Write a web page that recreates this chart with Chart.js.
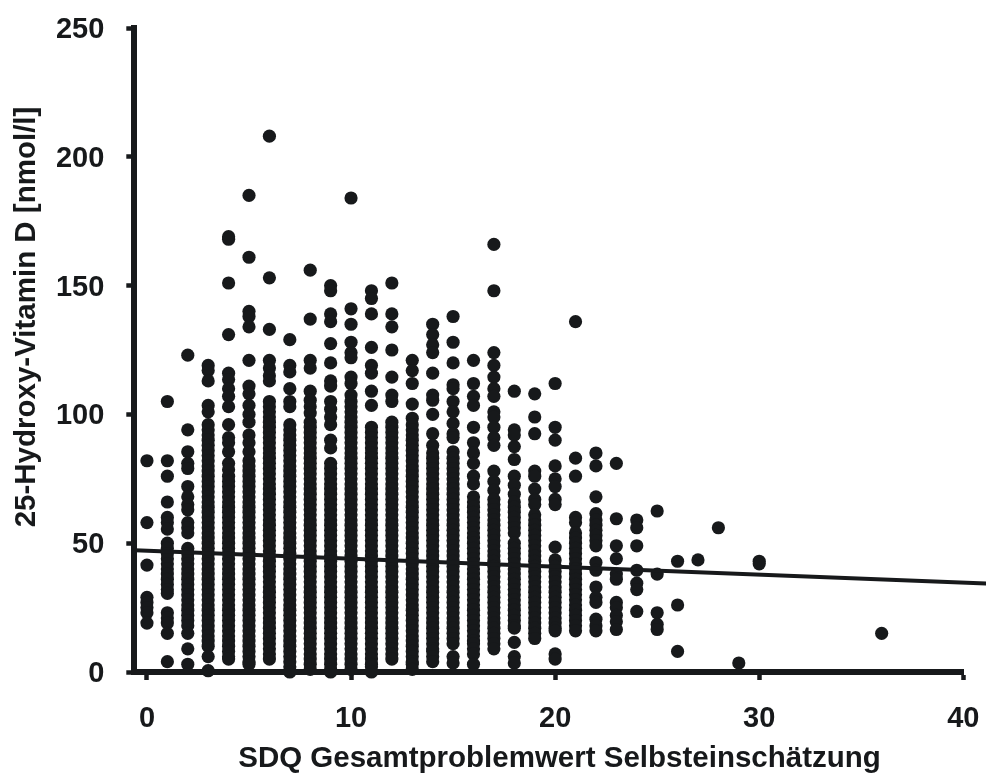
<!DOCTYPE html>
<html>
<head>
<meta charset="utf-8">
<style>html,body{margin:0;padding:0;background:#fff}canvas{display:block}</style>
<script src="https://cdn.jsdelivr.net/npm/chart.js@4/dist/chart.umd.min.js"></script>
</head>
<body>
<canvas id="c" width="986" height="773"></canvas>
<script>
const xTickLabels = [0, 10, 20, 30, 40];
const yTickLabels = [0, 50, 100, 150, 200, 250];
const xTitle = "SDQ Gesamtproblemwert Selbsteinschätzung";
const yTitle = "25-Hydroxy-Vitamin D [nmol/l]";

const score0 = [82,58,41.5,29,27,25,23,19];
const score1 = [105,82,76,66,60,58,55.5,50,48,46,44,42,40,38,36,34,32,30.5,23,21,19,15,4];
const score2 = [123,94,85.5,81,79,72,68,65,63,58,56,54,48,46,44,42,40,38,36,34,32,30,28,26,24,22,20,18,15,9,3];
const score3 = [119,117,113,103.5,101,96,94,92,90,88,86,84,82,80,78,76,74,72,70,68,66,64,62,60,58,56,54,52,50,48,46,44,42,40,38,36,34,32,30,28,26,24,22,20,18,16,14,12,10,6,0.5];
const score4 = [169,168,151,131,116,113.5,110,107,103,96,91,89,85.5,81,78.5,76,74,72,70,68,66,64,62,60,58,56,54,52,50,48,46,44,42,40,38,36,34,32,30,28,26,24,22,20,18,16,14,12,10,8,6,5];
const score5 = [185,161,140,138,134,121,111,108,103.5,100,97,92,89,85.5,82,80,78,76,74,72,70,68,66,64,62,60,58,56,54,52,50,48,46,44,42,40,38,36,34,32,30,28,26,24,22,20,18,16,14,12,10,8,6,4,3];
const score6 = [208,153,133,121,118,115,113,105,103,101,99,97,95,93,91,89,87,85,83,81,79,77,75,73,71,69,67,65,63,61,59,57,55,53,51,49,47,45,43,41,39,37,35,33,31,29,27,25,23,21,19,17,15,13,11,9,7,5];
const score7 = [129,119,116.5,110,105,103,96,94,92,90,88,86,84,82,80,78,76,74,72,70,68,66,64,62,60,58,56,54,52,50,48,46,44,42,40,38,36,34,32,30,28,26,24,22,20,18,16,14,12,10,8,6,4,2,0];
const score8 = [156,137,121,118,109,105.5,103,100.5,97,95,93,91,89,87,85,83,81,79,77,75,73,71,69,67,65,63,61,59,57,55,53,51,49,47,45,43,41,39,37,35,33,31,29,27,25,23,21,19,17,15,13,11,9,7,5,3,1];
const score9 = [150,148,139,136,127.5,120,113,111,105,102,99,96,90,87,81,79,77,75,73,71,69,67,65,63,61,59,57,55,53,51,49,47,45,43,41,39,37,35,33,31,29,27,25,23,21,19,17,15,13,11,9,7,5,3,1,0];
const score10 = [184,141,135,128,124,122,114.5,112,107.5,105,103,101,99,97,95,93,91,89,87,85,83,81,79,77,75,73,71,69,67,65,63,61,59,57,55,53,51,49,47,45,43,41,39,37,35,33,31,29,27,25,23,21,19,17,15,13,11,9,7,5,3,1];
const score11 = [148,145,139,126,119,116,109,103.5,95,93,91,89,87,85,83,81,79,77,75,73,71,69,67,65,63,61,59,57,55,53,51,49,47,45,43,41,39,37,35,33,31,29,27,25,23,21,19,17,15,13,11,9,7,5,3,2,0];
const score12 = [151,139,134,125,114.5,107.5,105,97,95,93,91,89,87,85,83,81,79,77,75,73,71,69,67,65,63,61,59,57,55,53,51,49,47,45,43,41,39,37,35,33,31,29,27,25,23,21,19,17,15,13,11,9,7,5];
const score13 = [121,117,112,104,98.5,96,94,92,90,88,86,84,82,80,78,76,74,72,70,68,66,64,62,60,58,56,54,52,50,48,46,44,42,40,38,36,34,32,30,28,26,24,22,20,18,16,14,12,10,8,6,4,3,1];
const score14 = [135,131,127,124,116,107.5,105.5,100,92.5,88,85,83,81,79,77,75,73,71,69,67,65,63,61,59,57,55,53,51,49,47,45,43,41,39,37,35,33,31,29,27,25,23,21,19,17,15,13,11,9,8,6,4];
const score15 = [138,128,120,111.5,110,105,101,96.5,92.5,91,85.5,83,81,79,77,75,73,71,69,67,65,63,61,59,57,55,53,51,49,47,45,43,41,39,37,35,33,31,29,27,25,23,21,19,17,15,13,11,6,3.5];
const score16 = [121,112,107,103.5,95,89,85,81,76,73,68,66,64,62,60,58,56,54,52,50,48,46,44,42,40,38,36,34,32,30,28,26,24,22,20,18,16,14,12,11,9,7,3];
const score17 = [166,148,124,119,114.5,110,107,101,99,95,91,88,78,74,70.5,67,65,63,61,59,57,55,53,51,49,47,45,43,41,39,37,35,33,31,29,27,25,23,21,19,17,15,13,11,9];
const score18 = [109,94,92,87.5,82.5,76,72.5,69,66,64,62,60,58,56,54,50,48,46,44,42,40,38,36,34,32,30,28,26,24,22,20,18,17,11.5,6,3.5];
const score19 = [108,99,92.5,78,76,71,67,65,61,59,57,55,53,51,49,47,45,43,41,39,37,35,33,31,29,27,25,23,21,19,17,15,13];
const score20 = [112,95,90,80,75,72,67,65,48.5,43.5,41,39,37,35,33,31,29,27,25,23,21,19,17,16,7,5];
const score21 = [136,83,76,60,58,54,52,50,48,46,44,42,40,38,36,34,32,30,28,26,24,22,20,18,16];
const score22 = [85,80,68,61.5,59,57,55,53,51,49,42.5,39.5,33,29,27,20.5,18,16];
const score23 = [81,59.5,49,44,38,36,27,25,22,19.5,16.5];
const score24 = [59,56,49,39.5,34.5,32,23.5];
const score25 = [62.5,38,23,18.5,16.5];
const score26 = [43,26,8];
const score27 = [43.5];
const score28 = [56];
const score29 = [3.5];
const score30 = [43,42];
const score36 = [15];

const pointColumns = [
  [0,score0],[1,score1],[2,score2],[3,score3],[4,score4],[5,score5],[6,score6],[7,score7],
  [8,score8],[9,score9],[10,score10],[11,score11],[12,score12],[13,score13],[14,score14],
  [15,score15],[16,score16],[17,score17],[18,score18],[19,score19],[20,score20],[21,score21],
  [22,score22],[23,score23],[24,score24],[25,score25],[26,score26],[27,score27],[28,score28],
  [29,score29],[30,score30],[36,score36]
];
const trendX = [-0.6, 41.3];
const trendY = [47.3, 34.3];

const ink = "#17191b";
const fontFamily = "'Liberation Sans', Arial, sans-serif";

const axisTitles = {
  id: "axisTitles",
  afterDraw(chart) {
    const ctx = chart.ctx;
    ctx.save();
    ctx.fillStyle = ink;
    ctx.font = "bold 29.5px " + fontFamily;
    ctx.textAlign = "center";
    ctx.textBaseline = "middle";
    ctx.fillText(xTitle, 559.5, 759);
    ctx.translate(27, 317);
    ctx.rotate(-Math.PI / 2);
    ctx.fillText(yTitle, 0, 0);
    ctx.restore();
  }
};

new Chart(document.getElementById("c"), {
  type: "scatter",
  plugins: [axisTitles],
  data: {
    datasets: [
      {
        type: "line",
        data: trendX.map((x, i) => ({ x, y: trendY[i] })),
        borderColor: ink,
        borderWidth: 4,
        pointRadius: 0,
        clip: false,
        order: 1
      },
      {
        data: pointColumns.flatMap(([x, ys]) => ys.map(y => ({ x, y }))),
        backgroundColor: ink,
        borderWidth: 0,
        pointRadius: 6.6,
        clip: false,
        order: 2
      }
    ]
  },
  options: {
    responsive: false,
    animation: false,
    layout: { padding: { left: 0, top: 28, right: 22.7, bottom: 0 } },
    plugins: { legend: { display: false }, tooltip: { enabled: false } },
    scales: {
      x: {
        type: "linear",
        min: -0.62,
        max: 40,
        afterFit(s) { s.height = 101; s.paddingLeft = 0; s.paddingRight = 0; },
        afterBuildTicks(s) { s.ticks = xTickLabels.map(value => ({ value })); },
        border: { display: true, color: ink, width: 6, z: 1 },
        grid: { drawOnChartArea: false, drawTicks: true, tickLength: 8, tickWidth: 4.5, tickColor: ink, z: 1 },
        ticks: { color: ink, padding: 22, maxRotation: 0, font: { family: fontFamily, size: 29, weight: "bold" } }
      },
      y: {
        type: "linear",
        min: 0,
        max: 250,
        afterFit(s) { s.width = 134.3; s.paddingTop = 0; s.paddingBottom = 0; },
        afterBuildTicks(s) { s.ticks = yTickLabels.map(value => ({ value })); },
        border: { display: true, color: ink, width: 6, z: 1 },
        grid: { drawOnChartArea: false, drawTicks: true, tickLength: 8, tickWidth: 4.5, tickColor: ink, z: 1 },
        ticks: { color: ink, padding: 22, labelOffset: 2, font: { family: fontFamily, size: 29, weight: "bold" } }
      }
    }
  }
});
</script>
</body>
</html>
